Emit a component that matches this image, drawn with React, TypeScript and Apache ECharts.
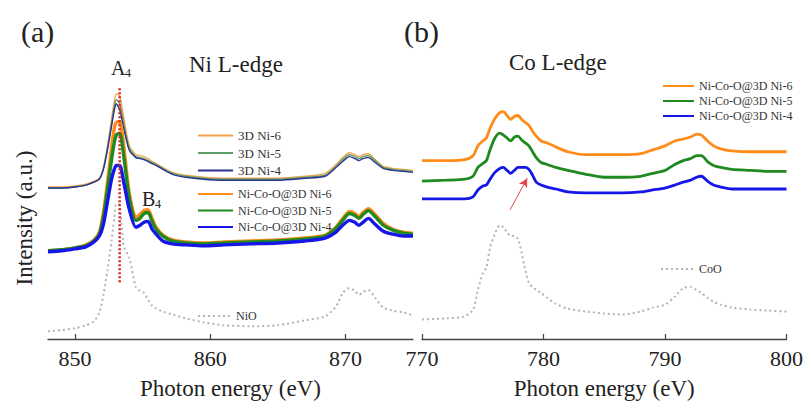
import React, { useEffect, useRef } from "react";
import * as echarts from "echarts";

// ---------- Ni L-edge (panel a) ----------
const NI_ENERGY = [848, 849, 850, 850.8, 851.4, 851.8, 852.1, 852.4, 852.7, 852.9, 853.05, 853.3, 853.6, 854.0, 854.5, 854.8, 855.1, 855.4, 855.7, 856.0, 856.5, 857.2, 858.2, 859.5, 861, 863, 865, 867, 868.5, 869.3, 869.8, 870.3, 870.7, 871.0, 871.3, 871.7, 872.2, 872.8, 873.5, 874.3, 875];
const NI_3D6 = [155, 155, 156, 158, 161, 164, 175, 197, 224, 242, 250, 248, 226, 198, 188, 187, 186, 184, 181, 179, 175, 170, 167, 165, 164, 164, 164, 166, 169, 178, 185, 190, 188, 186, 188, 189, 183, 176, 174, 173, 172];
const NI_3D5 = [154, 154, 155, 157, 160, 163, 174, 195, 220, 237, 244, 240, 220, 195, 186, 185, 184, 182, 180, 178, 174, 169, 166, 164, 163, 163, 163, 165, 167, 176, 183, 188, 186, 184, 186, 187, 182, 175, 173, 172, 171];
const NI_3D4 = [154, 154, 155, 157, 160, 163, 173, 193, 217, 233, 240, 234, 215, 193, 185, 184, 183, 181, 179, 177, 173, 168, 165, 163, 162, 162, 162, 164, 166, 175, 181, 186, 184, 182, 184, 185, 180, 174, 172, 171, 170];
const NI_NCO6 = [90, 91, 93, 96, 101, 109, 129, 160, 195, 215, 221, 222, 197, 150, 124, 127, 131, 132, 123, 114, 106, 101, 99, 98, 99, 100, 101, 103, 106, 114, 123, 130, 128, 125, 129, 133, 127, 118, 112, 109, 108];
const NI_NCO5 = [90, 91, 93, 95, 100, 107, 125, 153, 183, 200, 208, 210, 187, 145, 121, 123, 128, 129, 120, 112, 105, 100, 98, 97, 98, 99, 100, 102, 105, 113, 121, 128, 126, 123, 127, 131, 125, 116, 111, 108, 107];
const NI_NCO4 = [89, 90, 92, 94, 99, 105, 117, 140, 163, 173, 177, 177, 160, 133, 114, 116, 119, 120, 112, 107, 100, 97, 96, 95, 96, 97, 98, 100, 103, 109, 116, 121, 119, 116, 119, 123, 117, 110, 107, 105, 105];
const NI_NIO = [8, 9, 11, 14, 18, 27, 45, 70, 100, 123, 138, 137, 95, 83, 53, 49, 47, 40, 34, 31, 28, 25, 21, 17, 14, 13, 14, 19, 23, 33, 47, 52, 49, 45, 48, 50, 42, 32, 29, 27, 24];
const NI_TICKS = [850, 860, 870];
const A4_ENERGY = 853.3;
const A4_RANGE = [58, 257];

// ---------- Co L-edge (panel b) ----------
const CO_ENERGY = [770, 772, 773.5, 774.2, 774.6, 775.0, 775.3, 775.6, 776.0, 776.4, 776.7, 777.0, 777.3, 777.6, 777.9, 778.2, 778.5, 778.8, 779.1, 779.4, 779.8, 780.3, 781, 782, 783.5, 785, 786.5, 788, 789, 790, 790.8, 791.5, 792.1, 792.6, 793.0, 793.5, 794.0, 794.6, 795.5, 797, 798.5, 800];
const CO_NCO6 = [182, 182, 183, 187, 197, 202, 205, 215, 225, 231, 232, 228, 224, 227, 228, 224, 221, 218, 212, 207, 202, 200, 196, 191, 188, 188, 188, 189, 193, 197, 202, 204, 206, 209, 208, 202, 197, 194, 192, 191, 191, 191];
const CO_NCO5 = [161, 162, 163, 166, 175, 179, 182, 193, 205, 210, 208, 205, 202, 206, 207, 203, 200, 197, 191, 185, 180, 178, 175, 172, 168, 165, 165, 166, 169, 172, 178, 182, 184, 187, 187, 181, 177, 175, 173, 172, 171, 171];
const CO_NCO4 = [143, 143, 143, 145, 152, 156, 157, 163, 170, 174, 175, 172, 169, 172, 175, 175, 175, 173, 167, 160, 157, 155, 153, 150, 149, 149, 149, 150, 152, 154, 157, 160, 162, 165, 166, 161, 157, 155, 153, 153, 153, 153];
const CO_COO = [20, 21, 23, 30, 50, 67, 73, 93, 107, 116, 114, 109, 105, 105, 102, 88, 70, 57, 53, 50, 47, 42, 36, 31, 28, 26, 25, 28, 32, 35, 43, 52, 53, 50, 47, 42, 38, 35, 32, 30, 29, 28];
const ARROW_FROM = [777.26, 132];
const ARROW_TO = [778.66, 164];

const SERIF = "Liberation Serif";

const C_THIN = { o: "#f2a44c", g: "#5a9e66", b: "#2c3590" };
const C_THICK = { o: "#ff8c1a", g: "#1f8a1f", b: "#1616e8" };
const GRAY = "#b4b4b4";

function pairs(xs: number[], ys: number[]) {
  return xs.map((x, i) => [x, ys[i]]);
}

function lineSeries(name: string, axis: number, xs: number[], ys: number[], color: string, width: number, z: number, type: any = "solid") {
  return {
    name,
    type: "line",
    xAxisIndex: axis,
    yAxisIndex: axis,
    data: pairs(xs, ys),
    symbol: "none",
    smooth: 0.25,
    z,
    lineStyle: { color, width, type },
    itemStyle: { color },
    emphasis: { disabled: true },
  };
}

function txt(text: string, x: number, y: number, size: number, extra: any = {}) {
  return {
    type: "text",
    x,
    y,
    ...extra,
    style: { text, font: `${size}px ${SERIF}`, fontFamily: SERIF, fontSize: size, fill: "#222", verticalAlign: "middle", ...(extra.style || {}) },
  };
}

export default function App() {
  const ref = useRef<HTMLDivElement>(null);
  useEffect(() => {
    if (!ref.current) return;
    const chart = echarts.init(ref.current, null, { renderer: "svg" });
    const axisCommon = {
      type: "value",
      axisLine: { show: true, onZero: false, lineStyle: { color: "#444", width: 1.3 } },
      axisTick: { show: true, inside: true, length: 5, lineStyle: { color: "#444", width: 1.2 } },
      splitLine: { show: false },
      nameLocation: "middle",
      nameGap: 38,
      nameTextStyle: { fontFamily: SERIF, fontSize: 23, color: "#222" },
    };
    const legendCommon = {
      orient: "vertical",
      padding: 0,
      itemHeight: 14,
      selectedMode: false,
      itemStyle: { opacity: 0, borderWidth: 0 },
      textStyle: { fontFamily: SERIF, fontSize: 12, color: "#333" },
    };
    const option: any = {
      animation: false,
      backgroundColor: "#ffffff",
      textStyle: { fontFamily: SERIF },
      grid: [
        { left: 48, top: 40, width: 365, height: 305 },
        { left: 422, top: 40, width: 365, height: 305 },
      ],
      xAxis: [
        {
          ...axisCommon,
          gridIndex: 0,
          min: 848,
          max: 875,
          name: "Photon energy (eV)",
          axisTick: { ...axisCommon.axisTick, customValues: NI_TICKS },
          axisLabel: { customValues: NI_TICKS, fontFamily: SERIF, fontSize: 22, color: "#222", margin: 8 },
        },
        {
          ...axisCommon,
          gridIndex: 1,
          min: 770,
          max: 800,
          interval: 10,
          name: "Photon energy (eV)",
          axisLabel: { fontFamily: SERIF, fontSize: 22, color: "#222", margin: 8 },
        },
      ],
      yAxis: [
        { type: "value", gridIndex: 0, min: 0, max: 305, show: false },
        { type: "value", gridIndex: 1, min: 0, max: 305, show: false },
      ],
      legend: [
        { ...legendCommon, data: ["3D Ni-6", "3D Ni-5", "3D Ni-4"], left: 197, top: 129, itemWidth: 35, itemGap: 4.5, textStyle: { ...legendCommon.textStyle, fontSize: 13 } },
        { ...legendCommon, data: ["Ni-Co-O@3D Ni-6", "Ni-Co-O@3D Ni-5", "Ni-Co-O@3D Ni-4"], left: 197, top: 188, itemWidth: 35, itemGap: 4.5 },
        { ...legendCommon, data: ["NiO"], left: 197, top: 310, itemWidth: 33 },
        { ...legendCommon, data: ["Ni-Co-O@3D Ni-6 ", "Ni-Co-O@3D Ni-5 ", "Ni-Co-O@3D Ni-4 "], left: 662, top: 80, itemWidth: 31, itemGap: 3,
          formatter: (n: string) => n.trim() },
        { ...legendCommon, data: ["CoO"], left: 660, top: 263, itemWidth: 33 },
      ],
      series: [
        lineSeries("NiO", 0, NI_ENERGY, NI_NIO, GRAY, 2, 1, [2, 3]),
        lineSeries("3D Ni-6", 0, NI_ENERGY, NI_3D6, C_THIN.o, 1.4, 2),
        lineSeries("3D Ni-5", 0, NI_ENERGY, NI_3D5, C_THIN.g, 1.4, 3),
        lineSeries("3D Ni-4", 0, NI_ENERGY, NI_3D4, C_THIN.b, 1.4, 4),
        lineSeries("Ni-Co-O@3D Ni-6", 0, NI_ENERGY, NI_NCO6, C_THICK.o, 3.4, 5),
        lineSeries("Ni-Co-O@3D Ni-5", 0, NI_ENERGY, NI_NCO5, C_THICK.g, 3.4, 6),
        lineSeries("Ni-Co-O@3D Ni-4", 0, NI_ENERGY, NI_NCO4, C_THICK.b, 3.4, 7),
        {
          name: "A4",
          type: "line",
          xAxisIndex: 0,
          yAxisIndex: 0,
          data: [[A4_ENERGY, A4_RANGE[0]], [A4_ENERGY, A4_RANGE[1]]],
          symbol: "none",
          z: 10,
          silent: true,
          lineStyle: { color: "#d82424", width: 2.5, type: [2, 2] },
        },
        {
          ...lineSeries("CoO", 1, CO_ENERGY, CO_COO, GRAY, 2, 1, [2, 3]),
          markLine: {
            silent: true,
            symbol: ["none", "arrow"],
            symbolSize: [7, 9],
            label: { show: false },
            lineStyle: { color: "#e04848", width: 1, type: "solid" },
            data: [[{ coord: ARROW_FROM }, { coord: ARROW_TO }]],
          },
        },
        lineSeries("Ni-Co-O@3D Ni-6 ", 1, CO_ENERGY, CO_NCO6, C_THICK.o, 2.8, 5),
        lineSeries("Ni-Co-O@3D Ni-5 ", 1, CO_ENERGY, CO_NCO5, C_THICK.g, 2.8, 6),
        lineSeries("Ni-Co-O@3D Ni-4 ", 1, CO_ENERGY, CO_NCO4, C_THICK.b, 2.8, 7),
      ],
      graphic: [
        txt("(a)", 21, 31, 30),
        txt("(b)", 404, 31, 30),
        txt("Ni L-edge", 189, 64, 23),
        txt("Co L-edge", 509, 62, 23),
        txt("A", 111, 68, 20),
        txt("4", 125, 73, 12),
        txt("B", 142, 199, 20),
        txt("4", 155, 204, 12),
        txt("Intensity (a.u.)", 24, 218, 23, { rotation: Math.PI / 2, style: { align: "center" } }),
      ],
    };
    chart.setOption(option);
    return () => chart.dispose();
  }, []);
  return (
    <div
      ref={ref}
      style={{ position: "fixed", left: 0, top: 0, width: 806, height: 405, background: "#fff" }}
    />
  );
}
